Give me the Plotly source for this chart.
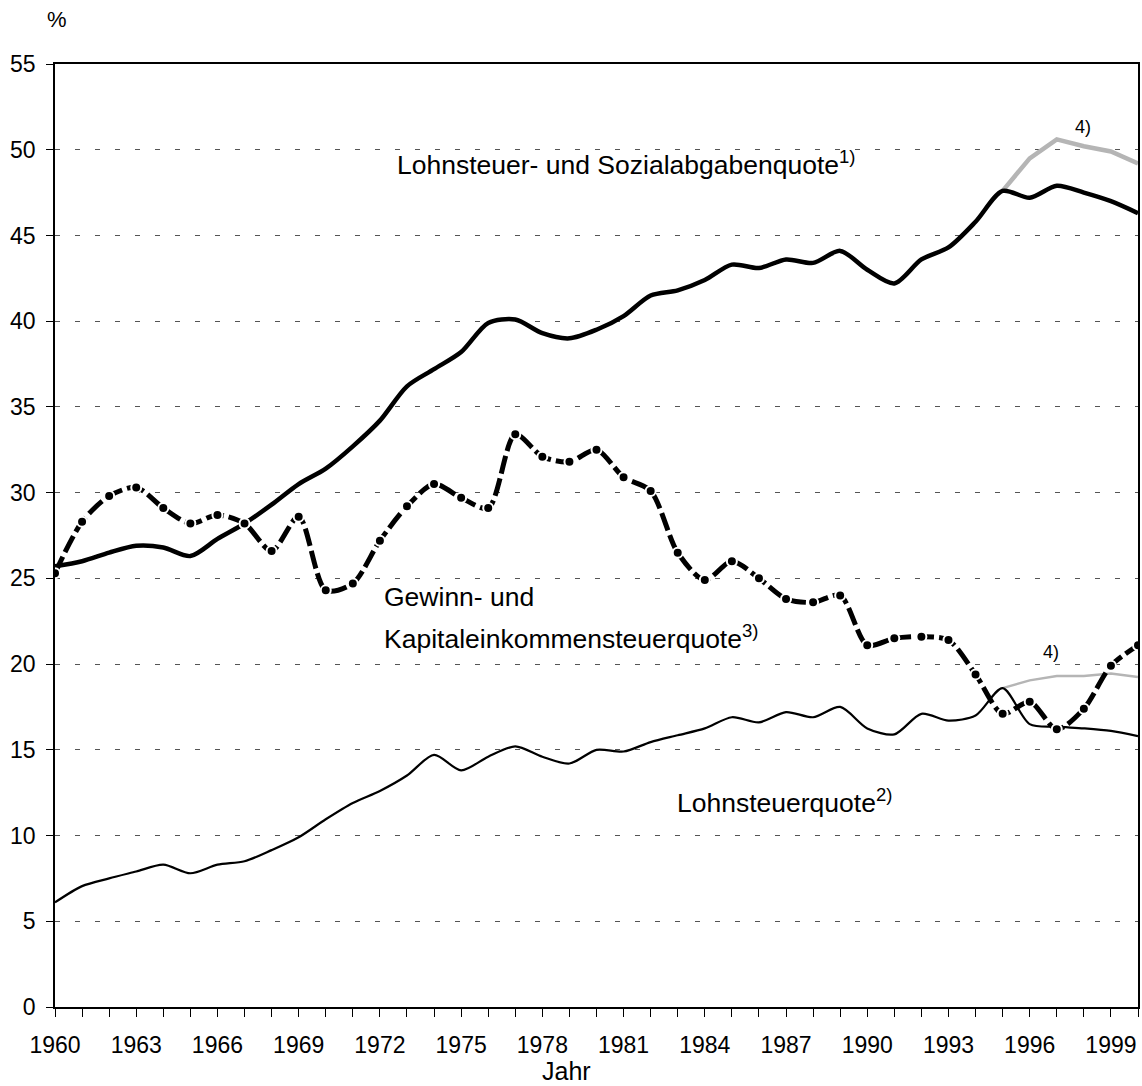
import plotly.graph_objects as go

years = list(range(1960, 2001))

# Lohnsteuer- und Sozialabgabenquote 1)
sozial = [25.7, 26.0, 26.5, 26.9, 26.8, 26.3, 27.3, 28.2, 29.3, 30.5,
          31.4, 32.7, 34.2, 36.2, 37.2, 38.2, 39.9, 40.1, 39.3, 39.0,
          39.5, 40.3, 41.5, 41.8, 42.4, 43.3, 43.1, 43.6, 43.4, 44.1,
          43.0, 42.2, 43.6, 44.3, 45.8, 47.6, 47.2, 47.9, 47.5, 47.0,
          46.3]

# Gewinn- und Kapitaleinkommensteuerquote 3)
gewinn = [25.3, 28.3, 29.8, 30.3, 29.1, 28.2, 28.7, 28.2, 26.6, 28.6,
          24.3, 24.7, 27.2, 29.2, 30.5, 29.7, 29.1, 33.4, 32.1, 31.8,
          32.5, 30.9, 30.1, 26.5, 24.9, 26.0, 25.0, 23.8, 23.6, 24.0,
          21.1, 21.5, 21.6, 21.4, 19.4, 17.1, 17.8, 16.2, 17.4, 19.9,
          21.1]

# Lohnsteuerquote 2)
lohn = [6.1, 7.05, 7.5, 7.9, 8.3, 7.8, 8.3, 8.5, 9.15, 9.9,
        10.95, 11.9, 12.6, 13.5, 14.7, 13.8, 14.6, 15.2, 14.6, 14.2,
        15.0, 14.9, 15.45, 15.85, 16.25, 16.9, 16.6, 17.2, 16.9, 17.5,
        16.25, 15.9, 17.1, 16.7, 17.0, 18.6, 16.5, 16.35, 16.25, 16.1,
        15.8]

# 4) alternative Werte ab 1995
years_alt = [1995, 1996, 1997, 1998, 1999, 2000]
sozial_alt = [47.6, 49.5, 50.6, 50.2, 49.9, 49.2]
lohn_alt = [18.6, 19.05, 19.3, 19.3, 19.45, 19.25]

x_ticks = list(range(1960, 2000, 3))

FONT = "Liberation Sans, Arial, sans-serif"

fig = go.Figure()

fig.add_trace(go.Scatter(x=years_alt, y=sozial_alt, mode="lines",
                         line=dict(color="#b5b5b5", width=4.5)))
fig.add_trace(go.Scatter(x=years_alt, y=lohn_alt, mode="lines",
                         line=dict(color="#b5b5b5", width=2.5)))

fig.add_trace(go.Scatter(x=years, y=sozial, mode="lines",
                         line=dict(color="black", width=4.5, shape="spline", smoothing=0.8)))
fig.add_trace(go.Scatter(x=years, y=lohn, mode="lines",
                         line=dict(color="black", width=2.2, shape="spline", smoothing=0.8)))
fig.add_trace(go.Scatter(x=years, y=gewinn, mode="lines+markers",
                         line=dict(color="black", width=5, shape="spline", smoothing=0.8,
                                   dash="18px,5px"),
                         marker=dict(size=10, color="black",
                                     line=dict(color="white", width=2))))

labels = [
    (1972.56, 49.2, "Lohnsteuer- und Sozialabgabenquote<sup>1)</sup>"),
    (1972.08, 23.9, "Gewinn- und"),
    (1972.08, 21.6, "Kapitaleinkommensteuerquote<sup>3)</sup>"),
    (1982.9, 12.0, "Lohnsteuerquote<sup>2)</sup>"),
]
for x, y, t in labels:
    fig.add_annotation(x=x, y=y, text=t, showarrow=False, xanchor="left",
                       yanchor="middle", font=dict(size=26.5, color="black", family=FONT))

fig.add_annotation(x=1997.97, y=51.3, text="4)", showarrow=False, yanchor="middle",
                   font=dict(size=18, color="black", family=FONT))
fig.add_annotation(x=1996.8, y=20.7, text="4)", showarrow=False, yanchor="middle",
                   font=dict(size=18, color="black", family=FONT))

fig.add_annotation(x=0.002, y=1.0477, xref="paper", yref="paper", text="%",
                   showarrow=False, xanchor="center", yanchor="middle",
                   font=dict(size=22, color="black", family=FONT))
fig.add_annotation(x=1978.9, y=-0.068, yref="paper", text="Jahr",
                   showarrow=False, xanchor="center", yanchor="middle",
                   font=dict(size=25, color="black", family=FONT))

fig.update_layout(
    width=1142, height=1086,
    margin=dict(l=55, r=4, t=64, b=79),
    paper_bgcolor="white", plot_bgcolor="white",
    showlegend=False,
    font=dict(family=FONT, color="black", size=23),
)

fig.update_xaxes(
    range=[1960, 2000], tickvals=x_ticks, ticks="outside", ticklen=8,
    tickcolor="black", tickwidth=1, showgrid=False, zeroline=False,
    showline=True, linecolor="black", linewidth=1.5, mirror=True,
    ticklabelstandoff=9, tickfont=dict(size=23), automargin=False,
    minor=dict(dtick=1, ticks="outside", ticklen=8, tickcolor="black", tickwidth=1),
)
fig.update_yaxes(
    range=[0, 55], dtick=5, ticks="outside", ticklen=7, tickcolor="black",
    showgrid=True, gridcolor="#555555", gridwidth=1, griddash="5px,15px",
    zeroline=False, showline=True, linecolor="black", linewidth=1.5, mirror=True,
    ticklabelstandoff=6, tickfont=dict(size=23), automargin=False,
)

# drop the default page margin so the figure sits at the window's corner
fig.write_html("out.html", config={"displayModeBar": False},
               post_script="document.body.style.margin='0';"
                           "document.body.style.overflow='hidden';")
